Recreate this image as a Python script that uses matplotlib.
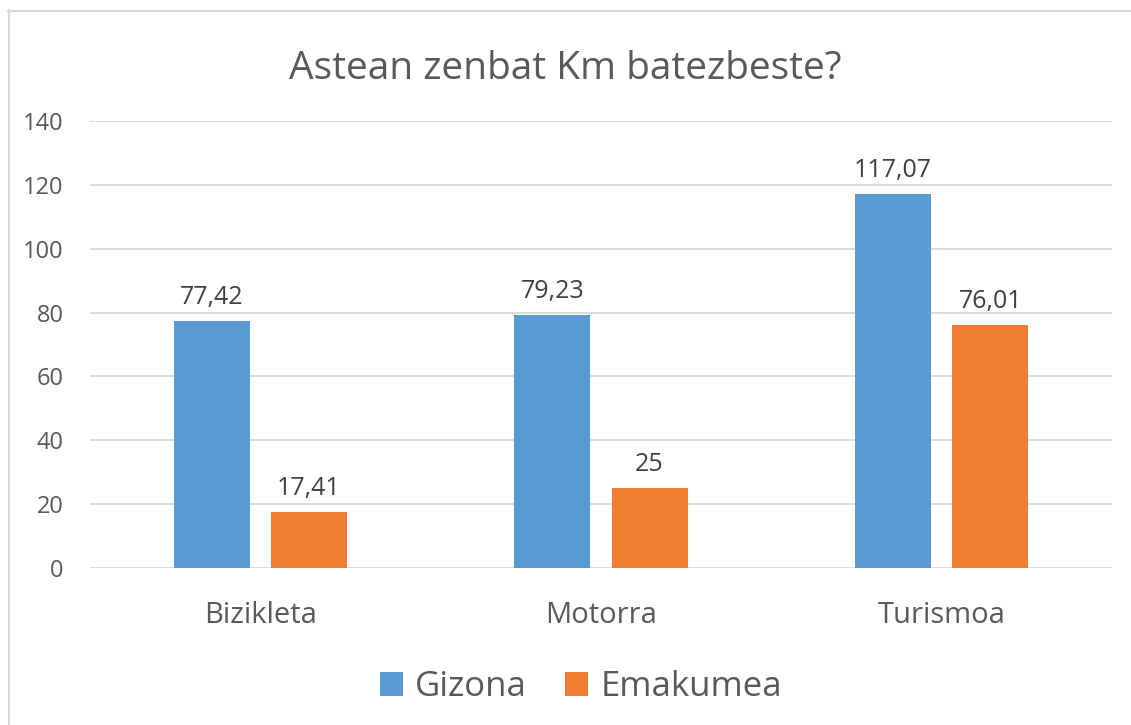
import numpy as np
import matplotlib
matplotlib.use("Agg")
import matplotlib.pyplot as plt
from matplotlib.lines import Line2D

plt.rcParams['font.family'] = ['Open Sans', 'DejaVu Sans']

categories = ["Bizikleta", "Motorra", "Turismoa"]
gizona = [77.42, 79.23, 117.07]
emakumea = [17.41, 25, 76.01]
gizona_labels = ["77,42", "79,23", "117,07"]
emakumea_labels = ["17,41", "25", "76,01"]
yticks = [0, 20, 40, 60, 80, 100, 120, 140]

blue = "#5B9BD5"
orange = "#ED7D31"
txt = "#595959"
grid = "#D9D9D9"

fig = plt.figure(figsize=(11.31, 7.25), dpi=100)
ax = fig.add_axes([90/1131, (725-568)/725, (1112-90)/1131, (568-121)/725])

x = np.arange(len(categories))
w = 0.223
off = 0.1425
b1 = ax.bar(x - off, gizona, w, color=blue, label="Gizona", zorder=3)
b2 = ax.bar(x + off, emakumea, w, color=orange, label="Emakumea", zorder=3)

for bars, labs in ((b1, gizona_labels), (b2, emakumea_labels)):
    for r, s in zip(bars, labs):
        ax.annotate(s, (r.get_x() + r.get_width()/2, r.get_height()),
                    xytext=(0, 8), textcoords="offset points",
                    ha="center", va="bottom", fontsize=18, color="#404040")

ax.set_xlim(-0.5, 2.5)
ax.set_ylim(0, 140)
ax.set_yticks(yticks)
ax.set_xticks(x)
ax.set_xticklabels(categories)
ax.yaxis.grid(True, color=grid, linewidth=1.3, zorder=0)
for sp in ax.spines.values():
    sp.set_visible(False)
ax.tick_params(axis="y", length=0, pad=19, labelsize=17, labelcolor=txt)
ax.tick_params(axis="x", length=0, pad=24, labelsize=21, labelcolor=txt)

fig.text(0.5, (725-69)/725, "Astean zenbat Km batezbeste?", ha="center", va="center",
         fontsize=28, color=txt)

fig.legend(handles=[b1, b2], loc="center", bbox_to_anchor=(581/1131, (725-687)/725),
           ncol=2, frameon=False, fontsize=25, labelcolor=txt,
           handlelength=0.66, handleheight=0.66, handletextpad=0.35, columnspacing=1.1)

# chart border (only top and left visible in the crop)
fig.add_artist(Line2D([8.5/1131, 8.5/1131], [0, (725-10)/725], color=grid, lw=1.5,
                      transform=fig.transFigure))
fig.add_artist(Line2D([8/1131, 1], [(725-10.5)/725, (725-10.5)/725], color=grid, lw=1.5,
                      transform=fig.transFigure))

fig.savefig("out.png", dpi=100)
